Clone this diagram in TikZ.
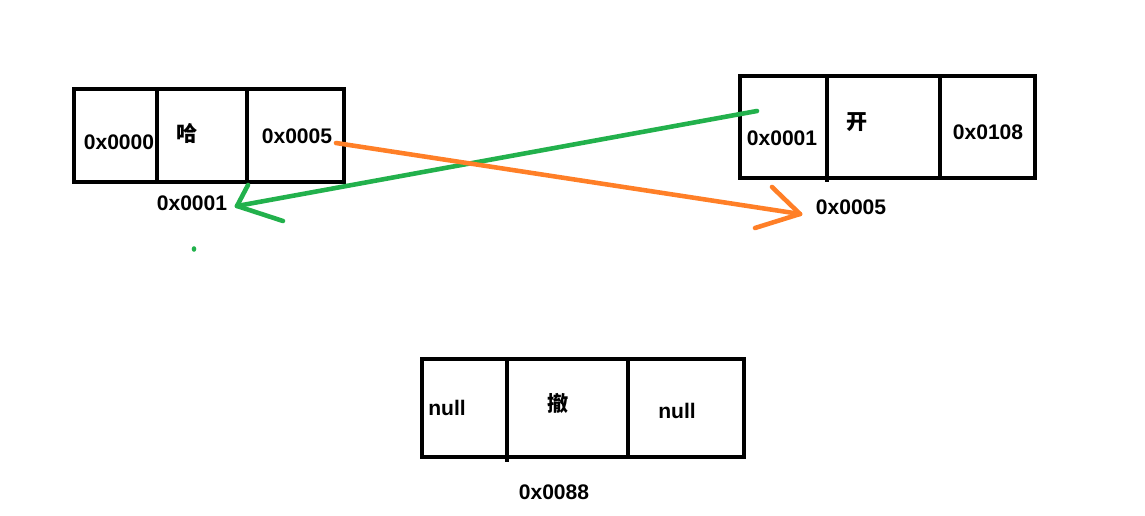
\documentclass[tikz,border=0pt]{standalone}
\usepackage{fontspec}
\setmainfont{Liberation Sans}
\newfontfamily\cjk{Noto Sans CJK SC}
\usetikzlibrary{calc}
\definecolor{pgreen}{HTML}{22B14C}
\definecolor{porange}{HTML}{FF7F27}
\tikzset{
  addr/.style={font=\bfseries\fontsize{12}{14}\selectfont,inner sep=0pt},
  hanzi/.style={font=\cjk\bfseries\fontsize{12}{14}\selectfont,inner sep=0pt},
  frame/.style={line width=2.6pt},
  stroke/.style={line width=2.6pt,line cap=round}
}
\begin{document}
\begin{tikzpicture}[x=0.02cm,y=-0.02cm]
            \useasboundingbox(0,0)rectangle(1145,516);
            %左の節点
            \draw[frame](74,89)rectangle(344,182);
            \draw[frame](157,89)--(157,182);
            \draw[frame](247,89)--(247,182);
            \node[addr](aprev)at(119,142){0x0000};
            \node[hanzi](adata)at(187,133){哈};
            \node[addr](anext)at(297,136){0x0005};
            \node[addr](aaddr)at(192,203){0x0001};
            %右の節点
            \draw[frame](740,76)rectangle(1035,178);
            \draw[frame](827,76)--(827,182);
            \draw[frame](940,76)--(940,178);
            \node[addr](bprev)at(782,138){0x0001};
            \node[hanzi](bdata)at(857,122){开};
            \node[addr](bnext)at(988,132){0x0108};
            \node[addr](baddr)at(851,207){0x0005};
            %下の節点
            \draw[frame](422,359)rectangle(744,457);
            \draw[frame](507,359)--(507,462);
            \draw[frame](628,359)--(628,457);
            \node[addr](cprev)at(447,408){null};
            \node[hanzi](cdata)at(558,403){撤};
            \node[addr](cnext)at(677,411){null};
            \node[addr](caddr)at(554,492){0x0088};
            %緑の矢印
            \coordinate(gs)at(757,111);
            \coordinate(gt)at(237,206);
            \draw[stroke,pgreen](gs)--(gt);
            \draw[stroke,pgreen](gt)--(248,185);
            \draw[stroke,pgreen](gt)--(283,221);
            \fill[pgreen](194,249)circle[x radius=1.3pt,y radius=1.6pt];
            %橙の矢印
            \coordinate(os)at(336,143);
            \coordinate(ot)at(800,214);
            \draw[stroke,porange](os)--(ot);
            \draw[stroke,porange](ot)--(772,187);
            \draw[stroke,porange](ot)--(755,228);
\end{tikzpicture}
\end{document}
